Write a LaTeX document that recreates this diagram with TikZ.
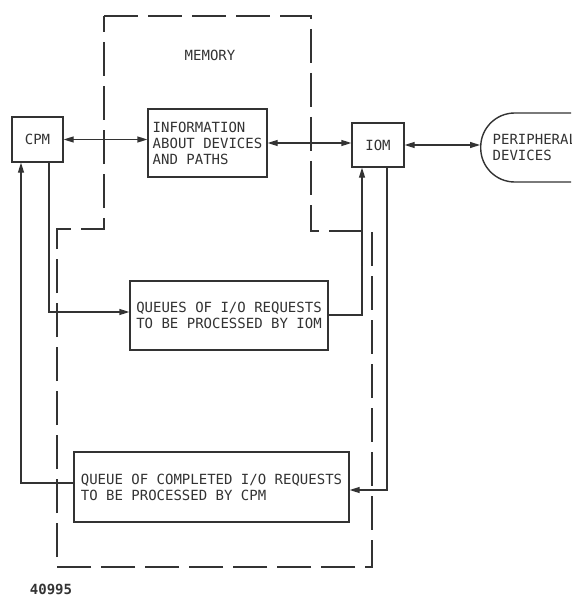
\documentclass[tikz,border=0pt]{standalone}
\usepackage{fontspec}
\newfontfamily\lett{DejaVu Sans Mono}
\usetikzlibrary{arrows.meta}
\definecolor{ink}{HTML}{333333}
\begin{document}
\begin{tikzpicture}[x=1pt,y=-1pt,
  >={Triangle[length=10pt,width=6pt]},
  box/.style={draw=ink, line width=1.4pt, inner sep=0pt, align=left, text=ink,
              font=\lett\fontsize{14}{16}\selectfont},
  lbl/.style={inner sep=0pt, text=ink, font=\lett\fontsize{14}{16}\selectfont},
  conn/.style={draw=ink, line width=1.4pt},
  memline/.style={draw=ink, line width=1.4pt, dash pattern=on 34pt off 10pt}
]
\useasboundingbox (0,0) rectangle (571,596);
\clip (0,0) rectangle (571,596);
\fill[white] (0,0) rectangle (571,596);

% memory outline
\draw[memline] (104,16) -- (311,16) -- (311,231) -- (372,231) -- (372,567)
   -- (57,567) -- (57,229) -- (104,229) -- cycle;
\node[lbl] (memlbl) at (210,55) {MEMORY};

% boxes
\node[box, minimum width=51pt, minimum height=45pt] (cpm) at (37.5,139.5) {CPM};
\node[box, minimum width=119pt, minimum height=68pt] (info) at (207.5,143)
  {INFORMATION\\ABOUT DEVICES\\AND PATHS};
\node[box, minimum width=52pt, minimum height=44pt] (iom) at (378,145) {IOM};
\node[box, rounded corners=34pt, inner xsep=12pt, text width=110pt,
      minimum height=69pt, anchor=west] (periph) at (480,147.5)
  {PERIPHERAL\\DEVICES};
\node[box, minimum width=198pt, minimum height=69pt] (queues) at (229,315.5)
  {QUEUES OF I/O REQUESTS\\TO BE PROCESSED BY IOM};
\node[box, minimum width=275pt, minimum height=70pt] (done) at (211.5,487)
  {QUEUE OF COMPLETED I/O REQUESTS\\TO BE PROCESSED BY CPM};

% connectors
\draw[conn,<->] (cpm.east) -- (cpm.east -| info.west);
\draw[conn,<->] (info.east) -- (info.east -| iom.west);
\draw[conn,<->] (iom.east) -- (iom.east -| periph.west);
\draw[conn,->] (cpm.south -| 49,0) |- (queues.west |- 0,312);
\draw[conn,->] (queues.east |- 0,315) -| (iom.south -| 362,0);
\draw[conn,->] (iom.south -| 387,0) |- (done.east |- 0,490);
\draw[conn,->] (done.west |- 0,483) -| (cpm.south -| 21,0);

\node[lbl, font=\lett\bfseries\fontsize{14}{16}\selectfont] (fignum) at (51,589) {40995};
\end{tikzpicture}
\end{document}
